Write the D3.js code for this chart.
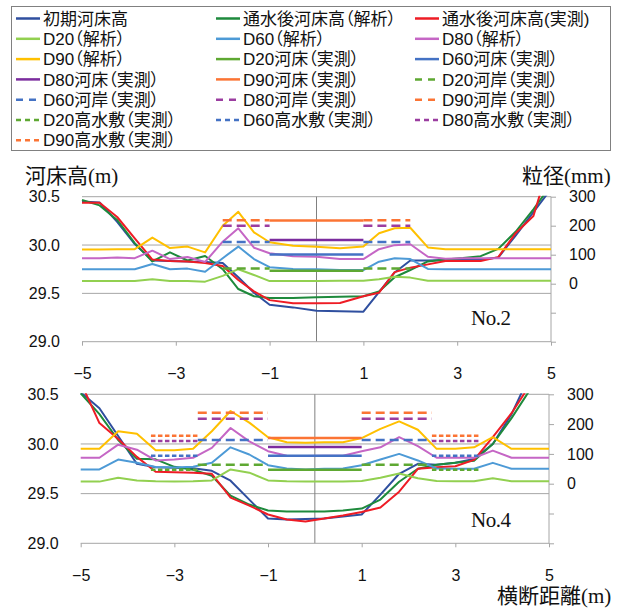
<!DOCTYPE html>
<html>
<head>
<meta charset="utf-8">
<script src="https://cdn.jsdelivr.net/npm/d3@7"></script>
<style>
  body { margin: 0; background: #fff; }
  svg text { font-family: "Liberation Sans", "Noto Sans CJK JP", sans-serif; fill: #111; }
  .lgtext { font-feature-settings: "palt"; }
</style>
</head>
<body>
<svg id="chart" width="618" height="609"></svg>
<script>
// ---- legend ----
var legendNames = ["初期河床高", "通水後河床高（解析）", "通水後河床高(実測)",
  "D20（解析）", "D60（解析）", "D80（解析）", "D90（解析）",
  "D20河床（実測）", "D60河床（実測）", "D80河床（実測）", "D90河床（実測）",
  "D20河岸（実測）", "D60河岸（実測）", "D80河岸（実測）", "D90河岸（実測）",
  "D20高水敷（実測）", "D60高水敷（実測）", "D80高水敷（実測）", "D90高水敷（実測）"];

// ---- axis ticks ----
var xTicks = [-5, -3, -1, 1, 3, 5];
var leftTicks = [29.0, 29.5, 30.0, 30.5];
var rightTicks = [-200, -100, 0, 100, 200, 300];

// ---- No.2 ----
var xTop = [-5, -4.625, -4.25, -3.875, -3.5, -3.125, -2.75, -2.375, -2, -1.667, -1.333, -1, -0.5, 0,
  0.5, 1, 1.333, 1.667, 2, 2.375, 2.75, 3.125, 3.5, 3.875, 4.25, 4.625, 5];
var initTop = [30.45, 30.44, 30.24, 30.01, 29.84, 29.835, 29.83, 29.825, 29.815, 29.666, 29.507, 29.383, 29.355, 29.32,
  29.315, 29.31, 29.514, 29.716, 29.84, 29.84, 29.845, 29.845, 29.85, 29.87, 30.1, 30.34, 30.58];
var calcTop = [30.466, 30.41, 30.26, 30.02, 29.83, 29.924, 29.84, 29.886, 29.75, 29.545, 29.47, 29.452, 29.452, 29.459,
  29.466, 29.47, 29.52, 29.667, 29.742, 29.83, 29.85, 29.865, 29.885, 29.96, 30.14, 30.37, 30.62];
var measTop = [30.438, 30.438, 30.29, 30.07, 29.85, 29.835, 29.83, 29.815, 29.783, 29.638, 29.52, 29.43, 29.397, 29.397,
  29.40, 29.47, 29.507, 29.72, 29.766, 29.80, 29.835, 29.835, 29.835, 29.875, 30.125, 30.3, 30.9];
var d20Top = [9, 9, 9, 9, 15, 9, 9, 7, 27, 50, 30, 9, 9, 9, 10, 10, 15, 24, 21, 10, 10, 10, 10, 10, 10, 10, 10];
var d60Top = [50, 50, 50, 50, 68, 50, 52, 41, 88, 128, 85, 57, 51, 50, 47, 47, 76, 88, 85, 51, 50, 50, 50, 50, 50, 50, 50];
var d80Top = [88, 88, 90, 88, 114, 85, 92, 75, 145, 191, 124, 105, 95, 93, 85, 85, 119, 133, 136, 93, 86, 88, 88, 88, 88, 88, 88];
var d90Top = [118, 118, 119, 119, 159, 123, 128, 108, 200, 248, 177, 143, 131, 127, 122, 128, 174, 191, 193, 125, 119, 119, 119, 119, 119, 119, 119];
// measured D20, D60, D80, D90
var bedTop = [45, 101, 151, 218];
var bankTop = [52, 144, 200, 219];
var floodTop = [];
var bedSpanTop = [[-1, 1]];
var bankSpanTop = [[-2, -1], [1, 2]];
var floodSpanTop = [];

// ---- No.4 ----
var xBot = [-5, -4.6, -4.2, -3.8, -3.4, -3.0, -2.6, -2.2, -1.8, -1.4, -1.0, -0.6, -0.2,
  0.2, 0.6, 1.0, 1.4, 1.8, 2.2, 2.6, 3.0, 3.4, 3.8, 4.2, 4.6, 5];
var initBot = [30.52, 30.36, 30.08, 29.8, 29.765, 29.76, 29.755, 29.73, 29.63, 29.44, 29.25, 29.24, 29.245,
  29.25, 29.27, 29.29, 29.49, 29.70, 29.80, 29.79, 29.81, 29.85, 30.0, 30.3, 30.7, 31.1];
var calcBot = [30.51, 30.30, 30.04, 29.85, 29.845, 29.77, 29.74, 29.68, 29.48, 29.39, 29.33, 29.32, 29.32,
  29.32, 29.33, 29.35, 29.44, 29.62, 29.75, 29.79, 29.81, 29.83, 30.0, 30.26, 30.55, 30.9];
var measBot = [30.62, 30.21, 30.05, 29.87, 29.72, 29.715, 29.71, 29.70, 29.46, 29.38, 29.29, 29.24, 29.22,
  29.25, 29.28, 29.315, 29.36, 29.52, 29.75, 29.765, 29.775, 29.84, 30.07, 30.31, 30.6, 30.9];
var d20Bot = [7, 7, 20, 11, 8, 7, 8, 11, 48, 37, 11, 8, 7, 7, 7, 9, 20, 34, 18, 9, 8, 8, 18, 8, 8, 8];
var d60Bot = [48, 48, 81, 70, 56, 54, 57, 70, 122, 98, 62, 51, 48, 50, 51, 62, 81, 100, 78, 51, 50, 50, 70, 50, 50, 50];
var d80Bot = [87, 87, 131, 114, 78, 81, 87, 120, 187, 142, 109, 94, 93, 94, 94, 109, 122, 156, 126, 87, 87, 87, 111, 87, 87, 87];
var d90Bot = [117, 117, 176, 168, 112, 112, 117, 176, 244, 205, 156, 139, 137, 139, 139, 153, 184, 209, 181, 117, 117, 122, 156, 117, 117, 117];
var bedBot = [47, 94, 123, 153];
var bankBot = [64, 147, 218, 238];
var floodBot = [47, 94, 143, 161];
var bedSpanBot = [[-1, 1]];
var bankSpanBot = [[-2.5, -1], [1, 2.5]];
var floodSpanBot = [[-3.5, -2.5], [2.5, 3.5]];

// ---- styles ----
var bedColors = ["#2f4f9f", "#1e8a3c", "#ee1c25"];
var calcColors = ["#92d050", "#4d9ad6", "#c566c5", "#ffc000"];
var measColors = ["#5ea832", "#4472c4", "#7b2c9e", "#fb7434"];
var bankColors = ["#5ea832", "#4472c4", "#9b3da0", "#fb7434"];

var legendStyle = [];
bedColors.forEach(function (c) { legendStyle.push({ c: c, dash: null }); });
calcColors.forEach(function (c) { legendStyle.push({ c: c, dash: null }); });
measColors.forEach(function (c) { legendStyle.push({ c: c, dash: null }); });
bankColors.forEach(function (c) { legendStyle.push({ c: c, dash: "7,6" }); });
bankColors.forEach(function (c) { legendStyle.push({ c: c, dash: "5,4" }); });

var svg = d3.select("#chart");

// legend box
var lg = svg.append("g");
lg.append("rect").attr("x", 11.5).attr("y", 6.5).attr("width", 599).attr("height", 144)
  .attr("fill", "none").attr("stroke", "#808080");
var colX = [16, 216, 415];
legendNames.forEach(function (name, i) {
  var col = i % 3, row = Math.floor(i / 3);
  var y = 18.5 + row * 20.3;
  var st = legendStyle[i];
  lg.append("line").attr("x1", colX[col]).attr("x2", colX[col] + 24)
    .attr("y1", y).attr("y2", y)
    .attr("stroke", st.c).attr("stroke-width", 2.5)
    .attr("stroke-dasharray", st.dash);
  lg.append("text").attr("class", "lgtext").attr("x", colX[col] + 27).attr("y", y).attr("dy", "0.36em")
    .style("font-size", "17px")
    .text(name);
});

function drawPanel(p) {
  var x = d3.scaleLinear().domain([-5, 5]).range([p.left, p.right]);
  var yL = d3.scaleLinear().domain([29, 30.5]).range([p.bottom, p.top]);
  var yR = d3.scaleLinear().domain([-200, 300]).range([p.bottom, p.top]);
  var g = svg.append("g");

  // gridlines
  g.selectAll(".grid").data(leftTicks.slice(1)).enter().append("line")
    .attr("x1", p.left).attr("x2", p.right)
    .attr("y1", function (d) { return yL(d); }).attr("y2", function (d) { return yL(d); })
    .attr("stroke", "#a6a6a6").attr("stroke-width", 1);
  // zero line
  g.append("line").attr("x1", x(0)).attr("x2", x(0)).attr("y1", p.top).attr("y2", p.bottom)
    .attr("stroke", "#808080").attr("stroke-width", 1);

  // x axis
  var xa = g.append("g").attr("transform", "translate(0," + p.bottom + ")")
    .call(d3.axisBottom(x).tickValues(xTicks).tickSize(4).tickPadding(22).tickFormat(d3.format("d")));
  xa.select(".domain").attr("stroke", "#a6a6a6").attr("d", "M" + p.left + ",0H" + p.right);
  xa.selectAll(".tick line").attr("stroke", "#a6a6a6");
  xa.selectAll("text").style("font-size", "16px").attr("fill", "#111");

  // left axis labels
  var la = g.append("g").attr("transform", "translate(" + (p.left - 22) + ",0)")
    .call(d3.axisLeft(yL).tickValues(leftTicks).tickSize(0).tickPadding(0).tickFormat(d3.format(".1f")));
  la.select(".domain").remove();
  la.selectAll("text").style("font-size", "16px").attr("fill", "#111");

  // right axis
  var ra = g.append("g").attr("transform", "translate(" + p.right + ",0)")
    .call(d3.axisRight(yR).tickValues(rightTicks).tickSize(5).tickPadding(13)
      .tickFormat(function (d) { return d >= 0 ? d : ""; }));
  ra.select(".domain").attr("stroke", "#a6a6a6").attr("d", "M0," + p.top + "V" + p.bottom);
  ra.selectAll(".tick line").attr("stroke", "#a6a6a6");
  ra.selectAll("text").style("font-size", "16px").attr("fill", "#111");

  // clip
  var cid = "clip" + p.id;
  svg.append("clipPath").attr("id", cid).append("rect")
    .attr("x", p.left - 2).attr("y", p.top - 1).attr("width", p.right - p.left + 4).attr("height", p.bottom - p.top + 2);
  var pl = g.append("g").attr("clip-path", "url(#" + cid + ")");

  var lineL = d3.line().x(function (d, i) { return x(p.xs[i]); }).y(function (d) { return yL(d); });
  var lineR = d3.line().x(function (d, i) { return x(p.xs[i]); }).y(function (d) { return yR(d); });

  [p.init, p.calc, p.meas].forEach(function (s, k) {
    pl.append("path").datum(s).attr("d", lineL).attr("fill", "none")
      .attr("stroke", bedColors[k]).attr("stroke-width", 2).attr("stroke-linejoin", "round");
  });
  p.grain.forEach(function (s, k) {
    pl.append("path").datum(s).attr("d", lineR).attr("fill", "none")
      .attr("stroke", calcColors[k]).attr("stroke-width", 2).attr("stroke-linejoin", "round");
  });

  function segs(vals, spans, colors, dash) {
    vals.forEach(function (v, k) {
      spans.forEach(function (sp) {
        pl.append("line").attr("x1", x(sp[0])).attr("x2", x(sp[1]))
          .attr("y1", yR(v)).attr("y2", yR(v))
          .attr("stroke", colors[k]).attr("stroke-width", 2.5)
          .attr("stroke-dasharray", dash);
      });
    });
  }
  segs(p.bed, p.bedSpan, measColors, null);
  segs(p.bank, p.bankSpan, bankColors, "9,5");
  segs(p.flood, p.floodSpan, bankColors, "4.5,2.5");

  g.append("text").attr("x", p.labelX).attr("y", p.labelY)
    .style("font-family", '"Liberation Serif", serif').style("font-size", "21px")
    .style("letter-spacing", "-0.5px")
    .text(p.label);
}

drawPanel({ id: 1, left: 82, right: 551, top: 196.7, bottom: 341.7,
  xs: xTop, init: initTop, calc: calcTop, meas: measTop,
  grain: [d20Top, d60Top, d80Top, d90Top],
  bed: bedTop, bank: bankTop, flood: floodTop,
  bedSpan: bedSpanTop, bankSpan: bankSpanTop, floodSpan: floodSpanTop,
  label: "No.2", labelX: 471, labelY: 325 });

drawPanel({ id: 2, left: 80.7, right: 549, top: 394.3, bottom: 543.3,
  xs: xBot, init: initBot, calc: calcBot, meas: measBot,
  grain: [d20Bot, d60Bot, d80Bot, d90Bot],
  bed: bedBot, bank: bankBot, flood: floodBot,
  bedSpan: bedSpanBot, bankSpan: bankSpanBot, floodSpan: floodSpanBot,
  label: "No.4", labelX: 471, labelY: 527 });

// axis titles
function title(txt, x, y) {
  svg.append("text").attr("x", x).attr("y", y)
    .style("font-family", '"Liberation Serif", "Noto Sans CJK JP", serif')
    .style("font-size", "21px").attr("fill", "#222")
    .text(txt);
}
title("河床高(m)", 25, 182.5);
title("粒径(mm)", 522, 182.5);
title("横断距離(m)", 497, 603);
</script>
</body>
</html>
